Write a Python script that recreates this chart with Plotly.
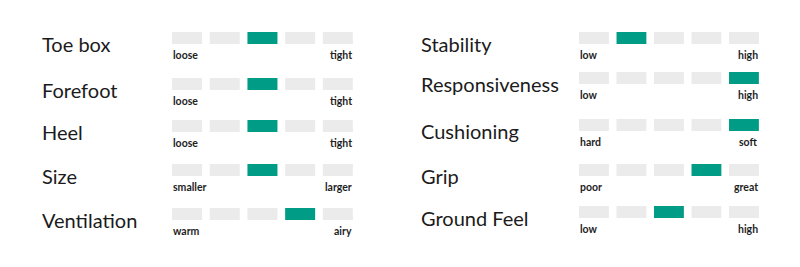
import plotly.graph_objects as go

# Shoe fit / ride ratings on a 5-step scale
left_names = ["Toe box", "Forefoot", "Heel", "Size", "Ventilation"]
left_scores = [3, 3, 3, 3, 4]
left_low = ["loose", "loose", "loose", "smaller", "warm"]
left_high = ["tight", "tight", "tight", "larger", "airy"]

right_names = ["Stability", "Responsiveness", "Cushioning", "Grip", "Ground Feel"]
right_scores = [2, 5, 5, 4, 3]
right_low = ["low", "low", "hard", "poor", "low"]
right_high = ["high", "high", "soft", "great", "high"]

steps = [1, 2, 3, 4, 5]

# Layout (pixels)
W, H = 800, 267
ROW_TOPS = {"left": [32, 78, 120, 164, 208], "right": [32, 72, 119, 164, 206]}
BAR_H = 12
COLS = {
    "left": dict(title_x=40, x0=168.2, x1=356.7),
    "right": dict(title_x=419, x0=575.2, x1=762.7),
}
FILL = "#019c86"
EMPTY = "#ebebeb"
FONT = "Lato"


def px_x(x):
    return x / W


def px_y(y):
    return 1 - y / H


fig = go.Figure()
layout = dict(
    width=W, height=H,
    margin=dict(l=0, r=0, t=0, b=0),
    paper_bgcolor="white", plot_bgcolor="white",
    showlegend=False, bargap=0.204,
    annotations=[],
)

groups = [
    ("left", left_names, left_scores, left_low, left_high),
    ("right", right_names, right_scores, right_low, right_high),
]

k = 0
for side, names, scores, lows, highs in groups:
    col = COLS[side]
    for i, (name, score, lo, hi) in enumerate(zip(names, scores, lows, highs)):
        k += 1
        sfx = "" if k == 1 else str(k)
        top = ROW_TOPS[side][i]
        bottom = top + BAR_H
        colors = [FILL if s == score else EMPTY for s in steps]
        fig.add_trace(go.Bar(
            x=steps, y=[1] * len(steps),
            marker=dict(color=colors, line=dict(width=0)),
            xaxis="x" + sfx, yaxis="y" + sfx,
            hoverinfo="skip",
        ))
        layout["xaxis" + sfx] = dict(
            domain=[px_x(col["x0"]), px_x(col["x1"])],
            range=[0.5, 5.5], visible=False, fixedrange=True,
            anchor="y" + sfx,
        )
        layout["yaxis" + sfx] = dict(
            domain=[px_y(bottom), px_y(top)],
            range=[0, 1], visible=False, fixedrange=True,
            anchor="x" + sfx,
        )
        # row title
        layout["annotations"].append(dict(
            text=name, xref="paper", yref="paper",
            x=px_x(col["title_x"]), y=px_y(bottom - 0.5),
            xanchor="left", yanchor="middle", showarrow=False,
            font=dict(family=FONT, size=20, color="#1b1b1b"),
        ))
        # scale end labels
        bar_w = (col["x1"] - col["x0"]) / 5
        gap = bar_w * 0.204
        layout["annotations"].append(dict(
            text="<b>%s</b>" % lo, xref="paper", yref="paper",
            x=px_x(col["x0"] + gap / 2 - 1), y=px_y(bottom + 3),
            xanchor="left", yanchor="top", showarrow=False,
            font=dict(family=FONT, size=10.5, color="#1e1e1e"),
        ))
        layout["annotations"].append(dict(
            text="<b>%s</b>" % hi, xref="paper", yref="paper",
            x=px_x(col["x1"] - gap / 2 + 1), y=px_y(bottom + 3),
            xanchor="right", yanchor="top", showarrow=False,
            font=dict(family=FONT, size=10.5, color="#1e1e1e"),
        ))

fig.update_layout(**layout)
fig.write_html("out.html", config={"displayModeBar": False})
